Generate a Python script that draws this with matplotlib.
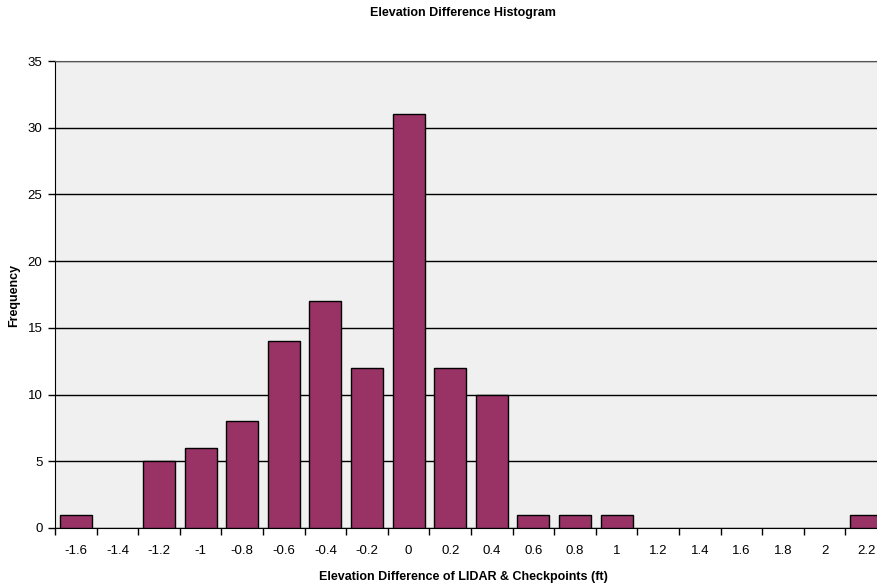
import matplotlib
matplotlib.use("Agg")
import matplotlib.pyplot as plt
import numpy as np

plt.rcParams['font.family'] = ['Liberation Sans', 'DejaVu Sans']

categories = ["-1.6", "-1.4", "-1.2", "-1", "-0.8", "-0.6", "-0.4", "-0.2", "0", "0.2",
              "0.4", "0.6", "0.8", "1", "1.2", "1.4", "1.6", "1.8", "2", "2.2"]
frequency = [1, 0, 5, 6, 8, 14, 17, 12, 31, 12, 10, 1, 1, 1, 0, 0, 0, 0, 0, 1]
yticks = [0, 5, 10, 15, 20, 25, 30, 35]

fig = plt.figure(figsize=(8.78, 5.87), dpi=100)
W, H = 878, 587
ax = fig.add_axes([55 / W, (H - 528) / H, (887 - 55) / W, (528 - 61) / H])
ax.set_facecolor('#f0f0f0')

x = np.arange(len(categories))
edges = ['black' if v > 0 else 'none' for v in frequency]
ax.bar(x, frequency, width=0.77, color='#993366', edgecolor=edges, linewidth=1.0, zorder=3)

ax.set_xlim(-0.5, len(categories) - 0.5)
ax.set_ylim(0, 35)
ax.set_yticks(yticks)
ax.set_yticklabels([str(v) for v in yticks], fontsize=9.5)
ax.set_xticks(x)
ax.set_xticklabels(categories, fontsize=9.5)
ax.tick_params(axis='x', which='major', length=0, pad=12)
ax.set_xticks(np.arange(-0.5, len(categories) + 0.5, 1), minor=True)
ax.tick_params(axis='x', which='minor', length=5, direction='out', width=1)
ax.tick_params(axis='y', length=5, direction='out', width=1, pad=4)

ax.grid(axis='y', color='black', linewidth=1.0, zorder=1)
ax.spines['right'].set_visible(False)
ax.spines['top'].set_color('#555555')
ax.spines['left'].set_color('black')
ax.spines['bottom'].set_color('black')

fig.text(463 / W, 1 - 13 / H, 'Elevation Difference Histogram', ha='center', va='center',
         fontsize=9, fontweight='bold')
fig.text(463 / W, 1 - 577 / H, 'Elevation Difference of LIDAR & Checkpoints (ft)', ha='center',
         va='center', fontsize=9, fontweight='bold')
fig.text(14 / W, 1 - 295 / H, 'Frequency', ha='center', va='center', rotation=90,
         fontsize=9, fontweight='bold')

fig.savefig('out.png', dpi=100)
